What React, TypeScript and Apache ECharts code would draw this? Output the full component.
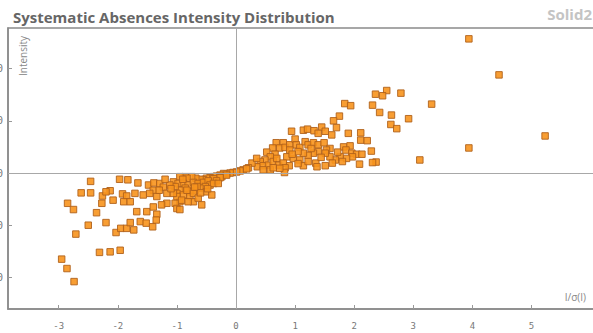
import React, { useEffect, useRef } from "react";
import * as echarts from "echarts";

// Reflections plotted as [I/σ(I), Intensity]
const outliers: number[][] = [
  [3.94, 257], [4.45, 188], [5.23, 71], [3.94, 48], [3.11, 25], [3.31, 132],
];

const upperArm: number[][] = [
  [2.79, 153], [2.55, 158], [2.48, 148], [2.36, 151], [1.84, 133], [1.94, 129],
  [2.31, 130], [2.43, 116], [2.63, 111], [2.92, 104], [2.62, 93], [2.72, 85],
  [1.75, 109], [1.65, 100], [1.7, 87], [0.94, 80], [1.14, 82], [1.21, 84],
  [1.32, 81], [1.45, 88], [1.39, 76], [1.51, 80], [1.62, 73], [1.9, 76],
  [2.11, 77], [2.11, 63], [2.22, 62], [2.29, 42], [2.37, 21], [2.31, 20], [2.09, 17],
];

const positiveBand: number[][] = [
  [0.68, 58], [0.8, 58], [0.62, 48], [0.74, 48], [0.83, 49], [0.91, 54],
  [1.0, 65], [1.02, 54], [1.08, 49], [1.17, 60], [1.22, 54], [1.31, 58],
  [1.39, 54], [1.49, 58], [1.59, 47], [1.53, 44], [1.82, 50], [1.93, 52],
  [1.86, 44], [1.96, 38], [2.04, 36], [2.13, 36], [1.97, 31], [1.87, 28],
  [1.76, 31], [1.68, 25], [1.59, 31], [1.51, 38], [1.39, 41], [1.31, 38],
  [1.22, 34], [1.14, 38], [1.05, 41], [0.91, 44], [0.86, 31], [0.97, 28],
  [1.08, 25], [1.14, 14], [1.22, 22], [1.35, 19], [1.37, 12], [1.51, 14],
  [0.52, 40], [0.66, 36], [0.95, 36], [1.27, 47], [1.44, 30], [1.63, 19],
  [1.05, 18], [0.9, 14], [1.72, 40], [1.8, 22],
];

const nearZero: number[][] = [
  [0.58, 31], [0.49, 25], [0.41, 22], [0.36, 12], [0.27, 19], [0.21, 10],
  [0.46, 14], [0.55, 15], [0.63, 22], [0.69, 28], [0.72, 15], [0.58, 6],
  [0.46, 6], [0.8, 19], [0.83, 10], [0.82, 1], [0.74, 9], [0.63, 10],
  [0.35, 28], [0.12, 6], [0.07, 4], [0.18, 8], [0.01, 2], [-0.05, 1],
  [-0.1, 0], [-0.16, -2], [-0.21, -1], [-0.27, -4], [-0.33, -6], [-0.38, -7],
  [-0.44, -9], [-0.5, -10], [-0.55, -13], [-0.61, -12], [-0.68, -10], [-0.75, -7],
  [-0.86, -7], [-0.95, -7], [-0.83, -10], [-0.36, -13], [-0.24, -7], [-0.16, -4],
  [-0.27, -9], [-0.38, -11],
];

const negativeBand: number[][] = [
  [-1.06, -17], [-0.98, -20], [-0.89, -20], [-0.81, -23], [-0.72, -18], [-0.64, -20],
  [-0.55, -18], [-0.47, -15], [-0.33, -15], [-0.44, -23], [-0.52, -26], [-0.61, -29],
  [-0.69, -33], [-0.78, -36], [-0.86, -29], [-0.95, -33], [-1.03, -26], [-1.0, -39],
  [-0.89, -42], [-0.78, -45], [-0.58, -61], [-0.72, -55], [-0.95, -55], [-1.03, -58],
  [-1.0, -68], [-0.38, -20], [-1.48, -23], [-1.39, -19], [-1.29, -20], [-1.4, -33],
  [-1.34, -45], [-1.23, -27], [-1.17, -39], [-1.12, -23], [-1.17, -58], [-1.26, -61],
  [-1.0, -45], [-0.92, -52], [-0.83, -33], [-0.72, -39], [-0.64, -48], [-0.95, -70],
  [-1.06, -39], [-0.81, -55], [-0.66, -26], [-0.5, -36], [-0.41, -42], [-1.92, -40],
  [-1.85, -44], [-1.9, -55], [-1.79, -55], [-1.71, -39], [-1.57, -42], [-1.46, -39],
  [-1.68, -74], [-1.51, -74], [-1.4, -65], [-1.34, -79],
  [-0.3, -20], [-0.6, -38], [-0.9, -12], [-1.2, -12], [-1.3, -33], [-0.7, -27],
  [-1.1, -30], [-0.48, -30],
];

const lowerArm: number[][] = [
  [-2.46, -16], [-1.97, -12], [-1.83, -13], [-1.66, -19], [-2.62, -38], [-2.46, -38],
  [-2.85, -58], [-2.75, -70], [-2.26, -44], [-2.27, -58], [-2.13, -34], [-2.2, -36],
  [-2.08, -52], [-2.36, -76], [-2.5, -100], [-2.71, -117], [-2.2, -95], [-2.03, -114],
  [-1.95, -106], [-1.85, -106], [-1.79, -95], [-1.73, -109], [-1.62, -93], [-1.52, -96],
  [-1.41, -103], [-1.35, -90], [-2.31, -152], [-2.13, -151], [-1.96, -148], [-2.95, -165],
  [-2.86, -183], [-2.74, -208],
];

const xTicks = [-3, -2, -1, 0, 1, 2, 3, 4, 5];
const yTicks = [-200, -100, 0, 100, 200];

const SHIFT = 40; // the canvas starts this far left of the visible frame

export default function App() {
  const ref = useRef<HTMLDivElement>(null);

  useEffect(() => {
    if (!ref.current) return;
    const chart = echarts.init(ref.current, null, { renderer: "svg" });
    const points = [
      ...outliers, ...upperArm, ...positiveBand, ...nearZero, ...negativeBand, ...lowerArm,
    ];
    chart.setOption({
      animation: false,
      title: {
        text: "Systematic Absences Intensity Distribution",
        left: 8 + SHIFT,
        top: 4,
        textStyle: {
          fontFamily: "Open Sans",
          fontSize: 15,
          fontWeight: "bold",
          color: "#666",
        },
      },
      grid: {
        left: 48,
        right: 50,
        top: 28,
        bottom: 24,
        show: true,
        borderColor: "#8a8a8a",
        borderWidth: 1.5,
      },
      xAxis: {
        type: "value",
        min: -3.858,
        max: 6.328,
        splitLine: { show: false },
        axisLine: { onZero: false, lineStyle: { color: "#8a8a8a", width: 1.5 } },
        axisTick: { inside: true, length: 4, customValues: xTicks, lineStyle: { color: "#999" } },
        axisLabel: {
          customValues: xTicks,
          margin: 12,
          color: "#777",
          fontSize: 9,
          fontFamily: "DejaVu Sans Mono",
        },
      },
      yAxis: {
        type: "value",
        min: -260.5,
        max: 277.8,
        splitLine: { show: false },
        axisLine: { onZero: false, lineStyle: { color: "#8a8a8a", width: 1.5 } },
        axisTick: { inside: true, length: 4, customValues: yTicks, lineStyle: { color: "#999" } },
        axisLabel: {
          customValues: yTicks,
          margin: 5,
          color: "#777",
          fontSize: 10,
          fontFamily: "DejaVu Sans Mono",
        },
      },
      graphic: [
        {
          type: "text",
          x: 592 + SHIFT,
          y: 14,
          style: {
            text: "Solid2",
            fill: "#c4c4c4",
            font: "bold 15px 'Open Sans'",
            align: "right",
            verticalAlign: "middle",
          },
        },
        {
          type: "text",
          x: 23 + SHIFT,
          y: 56,
          rotation: Math.PI / 2,
          style: {
            text: "Intensity",
            fill: "#888",
            font: "10px 'Open Sans'",
            align: "center",
            verticalAlign: "middle",
          },
        },
        {
          type: "text",
          x: 586 + SHIFT,
          y: 297,
          style: {
            text: "I/σ(I)",
            fill: "#888",
            font: "10px 'Open Sans'",
            align: "right",
            verticalAlign: "middle",
          },
        },
      ],
      series: [
        {
          type: "scatter",
          data: points,
          symbol: "rect",
          symbolSize: 6.5,
          itemStyle: {
            color: "#F7941D",
            borderColor: "#B0621C",
            borderWidth: 1,
            opacity: 0.9,
          },
          markLine: {
            silent: true,
            symbol: "none",
            label: { show: false },
            lineStyle: { color: "#a8a8a8", width: 1, type: "solid" },
            data: [{ xAxis: 0 }, { yAxis: 0 }],
          },
        },
      ],
    });
    return () => chart.dispose();
  }, []);

  return (
    <div
      style={{
        position: "fixed",
        left: 0,
        top: 0,
        width: 593,
        height: 333,
        overflow: "hidden",
        background: "#fff",
      }}
    >
      <div
        ref={ref}
        style={{ position: "absolute", left: -SHIFT, top: 0, width: 700, height: 333 }}
      />
    </div>
  );
}
